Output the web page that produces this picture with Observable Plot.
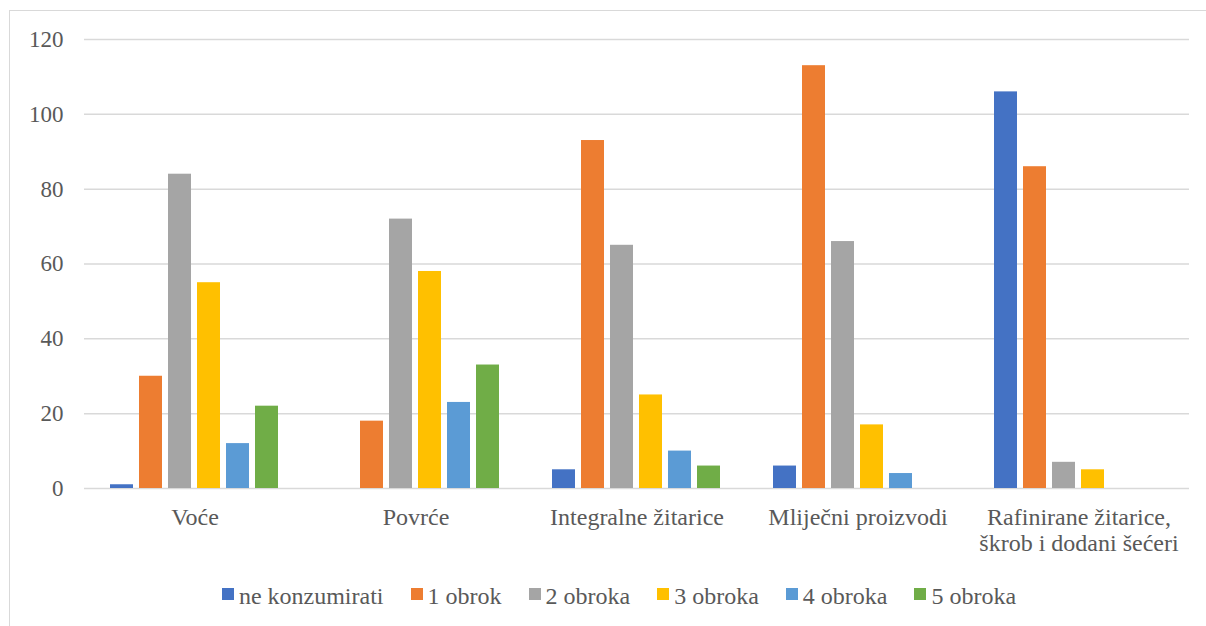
<!DOCTYPE html>
<html>
<head>
<meta charset="utf-8">
<script src="https://cdn.jsdelivr.net/npm/d3@7"></script>
<script src="https://cdn.jsdelivr.net/npm/@observablehq/plot@0.6"></script>
<style>
  html, body { margin: 0; padding: 0; background: #fff; width: 1206px; height: 626px; overflow: hidden; }
  #frame { position: absolute; left: 9px; top: 10px; width: 1400px; height: 800px; border: 1px solid #d9d9d9; }
  #chart { position: absolute; left: 0; top: 0; }
  #legend { position: absolute; left: 0; top: 584px; width: 1238px; display: flex; justify-content: center; gap: 27px;
    font-family: "Liberation Serif", "Times New Roman", serif; font-size: 24px; line-height: 24px; color: #595959; }
  .item { display: flex; align-items: flex-start; gap: 5px; }
  .sw { width: 12px; height: 12px; display: inline-block; margin-top: 4px; }
</style>
</head>
<body>
<div id="frame"></div>
<div id="chart"></div>
<div id="legend"></div>
<script>
const categories = ["Voće", "Povrće", "Integralne žitarice", "Mliječni proizvodi", "Rafinirane žitarice, škrob i dodani šećeri"];
const categoryLabels = ["Voće", "Povrće", "Integralne žitarice", "Mliječni proizvodi", "Rafinirane žitarice,\nškrob i dodani šećeri"];
const seriesNames = ["ne konzumirati", "1 obrok", "2 obroka", "3 obroka", "4 obroka", "5 obroka"];
const seriesColors = ["#4472C4", "#ED7D31", "#A5A5A5", "#FFC000", "#5B9BD5", "#70AD47"];
const neKonzumirati = [1, 0, 5, 6, 106];
const obrok1 = [30, 18, 93, 113, 86];
const obroka2 = [84, 72, 65, 66, 7];
const obroka3 = [55, 58, 25, 17, 5];
const obroka4 = [12, 23, 10, 4, 0];
const obroka5 = [22, 33, 6, 0, 0];
const yTicks = [0, 20, 40, 60, 80, 100, 120];

const seriesValues = [neKonzumirati, obrok1, obroka2, obroka3, obroka4, obroka5];
const data = [];
categories.forEach((c, i) => {
  seriesNames.forEach((s, j) => data.push({category: c, series: s, value: seriesValues[j][i]}));
});
const labelOf = new Map(categories.map((c, i) => [c, categoryLabels[i]]));

const chart = Plot.plot({
  width: 1206,
  height: 570,
  marginLeft: 84,
  marginRight: 17,
  marginTop: 39,
  marginBottom: 82,
  style: {fontFamily: "'Liberation Serif', 'Times New Roman', serif", color: "#595959", background: "transparent"},
  fx: {domain: categories, padding: 0, label: null},
  x: {domain: seriesNames, paddingInner: 0.2, paddingOuter: 0.85, axis: null},
  y: {domain: [0, 120], label: null},
  color: {domain: seriesNames, range: seriesColors},
  marks: [
    Plot.gridY(yTicks, {stroke: "#d9d9d9", strokeOpacity: 1, strokeWidth: 1.5}),
    Plot.barY(data, {fx: "category", x: "series", y: "value", fill: "series"}),
    Plot.axisY(yTicks, {tickSize: 0, tickPadding: 21, fontSize: 23, fill: "#595959", label: null}),
    Plot.axisFx({anchor: "bottom", tickSize: 0, tickPadding: 18, fontSize: 24, fill: "#595959", lineHeight: 1.09,
      tickFormat: d => labelOf.get(d), label: null})
  ]
});
document.getElementById("chart").appendChild(chart);

const legend = document.getElementById("legend");
seriesNames.forEach((s, i) => {
  const item = document.createElement("div");
  item.className = "item";
  const sw = document.createElement("span");
  sw.className = "sw";
  sw.style.background = seriesColors[i];
  const t = document.createElement("span");
  t.textContent = s;
  item.appendChild(sw);
  item.appendChild(t);
  legend.appendChild(item);
});
</script>
</body>
</html>
